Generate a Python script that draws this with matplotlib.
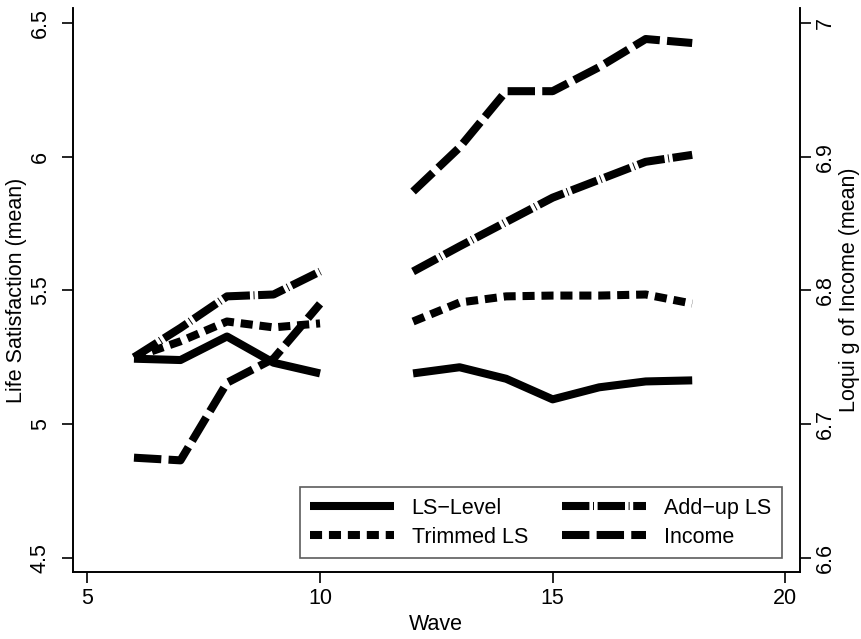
import matplotlib
matplotlib.use("Agg")
import numpy as np
import matplotlib.pyplot as plt

plt.rcParams['font.family'] = ['Liberation Sans', 'DejaVu Sans']

waves_a = [6, 7, 8, 9, 10]
waves_b = [12, 13, 14, 15, 16, 17, 18]

ls_level_a = [5.245, 5.24, 5.328, 5.23, 5.19]
ls_level_b = [5.19, 5.213, 5.17, 5.093, 5.138, 5.16, 5.164]

trimmed_a = [5.25, 5.31, 5.384, 5.362, 5.377]
trimmed_b = [5.384, 5.455, 5.478, 5.481, 5.481, 5.485, 5.451]

addup_a = [5.25, 5.36, 5.478, 5.485, 5.571]
addup_b = [5.571, 5.665, 5.756, 5.847, 5.914, 5.981, 6.007]

income_a = [6.675, 6.673, 6.731, 6.749, 6.79]
income_b = [6.874, 6.907, 6.949, 6.949, 6.967, 6.988, 6.985]

fig = plt.figure(figsize=(8.62, 6.39), dpi=100)
ax = fig.add_axes([0.0847, 0.105, 0.843, 0.8825])
ax2 = ax.twinx()

lw = 5.8
kw = dict(color='black', linewidth=lw, solid_capstyle='butt', dash_capstyle='butt')

# gaps between waves 10 and 12 -> separate segments
for xs, ys in [(waves_a, ls_level_a), (waves_b, ls_level_b)]:
    l1, = ax.plot(xs, ys, linestyle='-', **kw)
for xs, ys in [(waves_a, trimmed_a), (waves_b, trimmed_b)]:
    l2, = ax.plot(xs, ys, dashes=(1.5, 0.85), **kw)
for xs, ys in [(waves_a, addup_a), (waves_b, addup_b)]:
    l3, = ax.plot(xs, ys, dashes=(3.4, 0.45, 0.12, 0.45), **kw)
for xs, ys in [(waves_a, income_a), (waves_b, income_b)]:
    l4, = ax2.plot(xs, ys, dashes=(3.4, 0.9), **kw)

ax.set_xlim(4.69, 20.31)
ax.set_ylim(4.448, 6.556)
ax2.set_ylim(6.6 + (4.448 - 4.5) * 0.2, 6.6 + (6.556 - 4.5) * 0.2)

ax.set_xticks([5, 10, 15, 20])
ax.set_yticks([4.5, 5, 5.5, 6, 6.5])
ax.set_yticklabels(['4.5', '5', '5.5', '6', '6.5'], rotation=90, va='center')
ax2.set_yticks([6.6, 6.7, 6.8, 6.9, 7.0])
ax2.set_yticklabels(['6.6', '6.7', '6.8', '6.9', '7'], rotation=90, va='center')

for a in (ax, ax2):
    a.tick_params(labelsize=15.5, length=8, width=1.2, direction='out')
    a.spines['top'].set_visible(False)
    for s in a.spines.values():
        s.set_linewidth(1.2)
ax.tick_params(axis='y', pad=8)
ax2.tick_params(axis='y', pad=3)

ax.set_xlabel('Wave', fontsize=15.5, labelpad=4)
ax.set_ylabel('Life Satisfaction (mean)', fontsize=15.5, labelpad=2)
ax2.set_ylabel('Loqui g of Income (mean)', fontsize=15.5, labelpad=2, rotation=90)

leg = ax.legend([l1, l2, l3, l4], ['LS\u2212Level', 'Trimmed LS', 'Add\u2212up LS', 'Income'],
                ncol=2, loc='lower right', bbox_to_anchor=(0.99, 0.005),
                fontsize=15.5, frameon=True, fancybox=False, handlelength=3.9,
                handletextpad=0.8, columnspacing=1.6, borderpad=0.5, labelspacing=0.35)
leg.get_frame().set_edgecolor('#333333')
leg.get_frame().set_linewidth(1.2)

fig.savefig('out.png', dpi=100)
